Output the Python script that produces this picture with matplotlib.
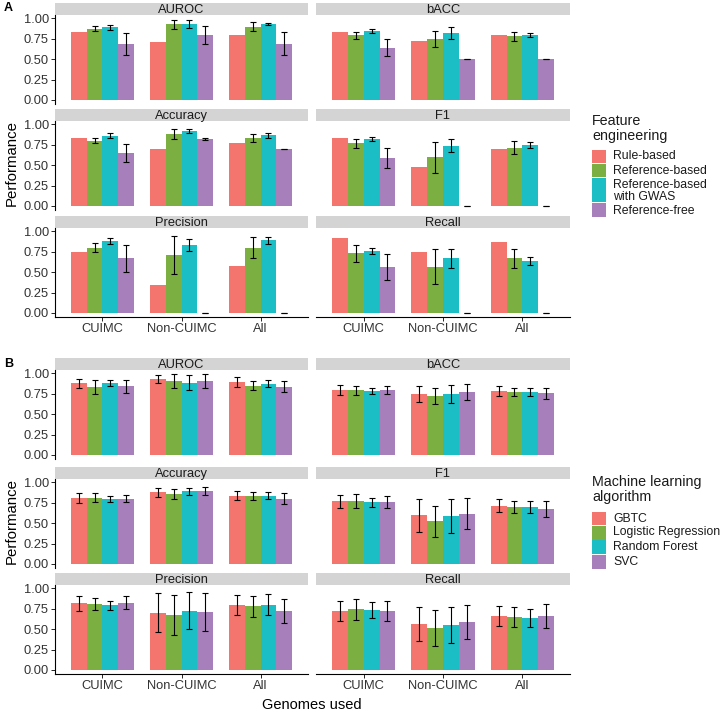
import numpy as np
import matplotlib
matplotlib.use("Agg")
import matplotlib.pyplot as plt
from matplotlib.patches import Rectangle

plt.rcParams["font.family"] = ["Liberation Sans", "DejaVu Sans"]

W, H = 720, 711

metrics = ["AUROC", "bACC", "Accuracy", "F1", "Precision", "Recall"]
sites = ["CUIMC", "Non-CUIMC", "All"]
colors = ["#F3756D", "#7CAF41", "#1BBEC4", "#A77FBA"]

# panel A: feature engineering (values per site: CUIMC, Non-CUIMC, All)
fe_methods = ["Rule-based", "Reference-based", "Reference-based\nwith GWAS", "Reference-free"]
fe_mean = {
    "AUROC": [[0.83, 0.71, 0.79], [0.87, 0.927, 0.895], [0.887, 0.927, 0.927], [0.69, 0.80, 0.69]],
    "bACC": [[0.83, 0.72, 0.79], [0.79, 0.75, 0.78], [0.84, 0.82, 0.80], [0.64, 0.50, 0.50]],
    "Accuracy": [[0.826, 0.70, 0.766], [0.80, 0.88, 0.83], [0.86, 0.92, 0.867], [0.65, 0.82, 0.694]],
    "F1": [[0.827, 0.476, 0.70], [0.766, 0.593, 0.71], [0.82, 0.738, 0.746], [0.585, 0.0, 0.0]],
    "Precision": [[0.74, 0.344, 0.575], [0.80, 0.713, 0.80], [0.88, 0.83, 0.89], [0.67, 0.0, 0.0]],
    "Recall": [[0.92, 0.745, 0.87], [0.73, 0.567, 0.668], [0.76, 0.668, 0.636], [0.56, 0.0, 0.0]],
}
nan = np.nan
fe_err = {
    "AUROC": [[nan] * 3, [0.03, 0.055, 0.055], [0.028, 0.05, 0.015], [0.135, 0.11, 0.145]],
    "bACC": [[nan] * 3, [0.045, 0.10, 0.055], [0.025, 0.07, 0.025], [0.10, 0.0, 0.0]],
    "Accuracy": [[nan] * 3, [0.035, 0.06, 0.053], [0.028, 0.025, 0.03], [0.11, 0.01, 0.003]],
    "F1": [[nan] * 3, [0.052, 0.19, 0.08], [0.027, 0.08, 0.037], [0.125, 0.0, 0.0]],
    "Precision": [[nan] * 3, [0.06, 0.235, 0.125], [0.033, 0.072, 0.04], [0.167, 0.0, 0.0]],
    "Recall": [[nan] * 3, [0.105, 0.21, 0.12], [0.04, 0.12, 0.05], [0.157, 0.0, 0.0]],
}

# panel B: machine learning algorithm
ml_algos = ["GBTC", "Logistic Regression", "Random Forest", "SVC"]
ml_mean = {
    "AUROC": [[0.878, 0.93, 0.89], [0.833, 0.906, 0.849], [0.878, 0.886, 0.873], [0.84, 0.90, 0.837]],
    "bACC": [[0.792, 0.747, 0.784], [0.79, 0.722, 0.77], [0.784, 0.747, 0.77], [0.792, 0.767, 0.755]],
    "Accuracy": [[0.81, 0.875, 0.837], [0.81, 0.86, 0.83], [0.80, 0.89, 0.833], [0.80, 0.89, 0.80]],
    "F1": [[0.767, 0.596, 0.712], [0.767, 0.525, 0.696], [0.754, 0.588, 0.70], [0.754, 0.617, 0.67]],
    "Precision": [[0.817, 0.703, 0.793], [0.805, 0.675, 0.78], [0.793, 0.724, 0.80], [0.825, 0.71, 0.72]],
    "Recall": [[0.72, 0.56, 0.658], [0.74, 0.516, 0.65], [0.733, 0.545, 0.638], [0.72, 0.59, 0.658]],
}
ml_err = {
    "AUROC": [[0.057, 0.05, 0.06], [0.082, 0.085, 0.057], [0.037, 0.092, 0.043], [0.08, 0.085, 0.063]],
    "bACC": [[0.06, 0.10, 0.06], [0.06, 0.10, 0.053], [0.038, 0.11, 0.045], [0.047, 0.098, 0.065]],
    "Accuracy": [[0.058, 0.058, 0.05], [0.056, 0.06, 0.048], [0.036, 0.045, 0.043], [0.046, 0.052, 0.07]],
    "F1": [[0.08, 0.20, 0.08], [0.085, 0.19, 0.075], [0.058, 0.21, 0.072], [0.073, 0.19, 0.095]],
    "Precision": [[0.093, 0.237, 0.126], [0.077, 0.242, 0.13], [0.057, 0.225, 0.13], [0.083, 0.238, 0.15]],
    "Recall": [[0.118, 0.21, 0.122], [0.125, 0.222, 0.12], [0.095, 0.22, 0.108], [0.12, 0.21, 0.147]],
}

fig = plt.figure(figsize=(W / 100, H / 100), dpi=100)


def px_axes(x0, y0, w, h):
    return fig.add_axes([x0 / W, 1 - (y0 + h) / H, w / W, h / H])


col_x = [(55, 253), (316, 254)]
strip_h, panel_h = 12, 89


def draw_block(strip_tops, means, errs):
    for i, m in enumerate(metrics):
        r, c = divmod(i, 2)
        x0, w = col_x[c]
        top = strip_tops[r]
        sax = px_axes(x0, top, w, strip_h)
        sax.set_facecolor("#D4D4D4")
        sax.set_xticks([])
        sax.set_yticks([])
        for s in sax.spines.values():
            s.set_visible(False)
        sax.text(0.5, 0.42, m, ha="center", va="center", fontsize=9.3,
                 color="#1A1A1A", transform=sax.transAxes)

        ax = px_axes(x0, top + strip_h, w, panel_h)
        x = np.arange(1, 4)
        bw = 0.2
        for k in range(4):
            xs = x + (k - 1.5) * bw
            ax.bar(xs, means[m][k], width=bw, color=colors[k], linewidth=0)
            e = np.array(errs[m][k], dtype=float)
            if not np.all(np.isnan(e)):
                ax.errorbar(xs, means[m][k], yerr=e, fmt="none", ecolor="black",
                            elinewidth=0.8, capsize=2.2, capthick=0.8)
        ax.set_xlim(0.4, 3.6)
        ax.set_ylim(-0.05, 1.04)
        ax.set_yticks([0, 0.25, 0.5, 0.75, 1.0])
        ax.spines["top"].set_visible(False)
        ax.spines["right"].set_visible(False)
        ax.tick_params(length=3, width=0.6, labelsize=9.3, labelcolor="#333333", pad=1.5)
        if c == 0:
            ax.set_yticklabels(["0.00", "0.25", "0.50", "0.75", "1.00"])
        else:
            ax.spines["left"].set_visible(False)
            ax.tick_params(axis="y", left=False, labelleft=False)
        if r == 2:
            ax.set_xticks(x)
            ax.set_xticklabels(sites)
        else:
            ax.spines["bottom"].set_visible(False)
            ax.set_xticks([])
        ax.patch.set_alpha(0)


def draw_legend(title_ys, title_lines, keys, labels, label_ys):
    for ty, tl in zip(title_ys, title_lines):
        fig.text(592 / W, 1 - ty / H, tl, ha="left", va="center", fontsize=10.3, color="#1A1A1A")
    for (ky0, ky1), lab, ly, col in zip(keys, labels, label_ys, colors):
        fig.add_artist(Rectangle((592 / W, 1 - ky1 / H), 13.5 / W, (ky1 - ky0) / H,
                                 transform=fig.transFigure, facecolor=col, edgecolor="none"))
        fig.text(613 / W, 1 - ly / H, lab, ha="left", va="center", fontsize=8.8,
                 color="#1A1A1A", linespacing=1.0)


draw_block([3, 109, 216], fe_mean, fe_err)
draw_block([358, 467, 573], ml_mean, ml_err)

draw_legend([120.7, 136], ["Feature", "engineering"],
            [(149.5, 163), (163.5, 177), (178, 202), (203, 217)],
            fe_methods, [156, 171.5, 190.5, 210.5])
draw_legend([481.7, 496.7], ["Machine learning", "algorithm"],
            [(511.7, 525), (526, 539.5), (540, 554), (555, 569)],
            ml_algos, [518.5, 532.5, 547, 562])

fig.text(12 / W, 1 - 163 / H, "Performance", rotation=90, ha="center", va="center", fontsize=10.8)
fig.text(12 / W, 1 - 521 / H, "Performance", rotation=90, ha="center", va="center", fontsize=10.8)
fig.text(312 / W, 1 - 705 / H, "Genomes used", ha="center", va="center", fontsize=10.5)
fig.text(4 / W, 1 - 8 / H, "A", ha="left", va="center", fontsize=9, fontweight="bold")
fig.text(4 / W, 1 - 364 / H, "B", ha="left", va="center", fontsize=9, fontweight="bold")

fig.savefig("out.png", dpi=100)
